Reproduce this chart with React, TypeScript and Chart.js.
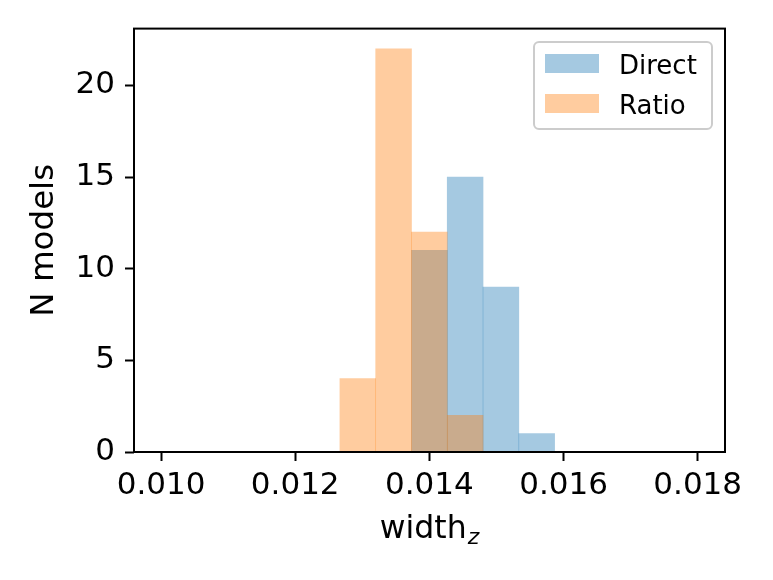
import React, { useEffect, useRef } from 'react';
import { Chart, registerables } from 'chart.js';

Chart.register(...registerables);

// histogram: 15 bins over [0.010, 0.018], only the bins that hold something are kept
const binCenters = [0.0129333, 0.0134667, 0.014, 0.0145333, 0.0150667, 0.0156];
const directCounts = [0, 0, 11, 15, 9, 1];
const ratioCounts = [4, 22, 12, 2, 0, 0];
const seriesLabels = ['Direct', 'Ratio'];
const xTicks = [0.01, 0.012, 0.014, 0.016, 0.018];
const yTicks = [0, 5, 10, 15, 20];
const xTitle = 'width';
const xTitleSub = 'z';
const yTitle = 'N models';

const FONT = '"DejaVu Sans", sans-serif';
const BLUE = 'rgba(31,119,180,0.4)';
const ORANGE = 'rgba(255,127,14,0.4)';

// spines, axis titles and the boxed legend, drawn the matplotlib way
const framePlugin = {
  id: 'frame',
  afterDraw(chart: any) {
    const { ctx, chartArea: a } = chart;
    ctx.save();
    ctx.strokeStyle = '#000';
    ctx.lineWidth = 2;
    ctx.strokeRect(a.left, a.top, a.right - a.left, a.bottom - a.top);

    // x title with subscript
    ctx.fillStyle = '#000';
    ctx.textBaseline = 'alphabetic';
    ctx.textAlign = 'left';
    ctx.font = `31.5px ${FONT}`;
    const w1 = ctx.measureText(xTitle).width;
    ctx.font = `italic 22px ${FONT}`;
    const w2 = ctx.measureText(xTitleSub).width;
    const x0 = (a.left + a.right) / 2 - (w1 + w2 + 1) / 2;
    ctx.font = `31.5px ${FONT}`;
    ctx.fillText(xTitle, x0, 538);
    ctx.font = `italic 22px ${FONT}`;
    ctx.fillText(xTitleSub, x0 + w1 + 1, 544);

    // y title
    ctx.save();
    ctx.translate(53, (a.top + a.bottom) / 2);
    ctx.rotate(-Math.PI / 2);
    ctx.textAlign = 'center';
    ctx.font = `32.5px ${FONT}`;
    ctx.fillText(yTitle, 0, 0);
    ctx.restore();

    // legend
    const lx = 534, ly = 42, lw = 178, lh = 87, r = 5;
    ctx.beginPath();
    ctx.moveTo(lx + r, ly);
    ctx.arcTo(lx + lw, ly, lx + lw, ly + lh, r);
    ctx.arcTo(lx + lw, ly + lh, lx, ly + lh, r);
    ctx.arcTo(lx, ly + lh, lx, ly, r);
    ctx.arcTo(lx, ly, lx + lw, ly, r);
    ctx.closePath();
    ctx.fillStyle = 'rgba(255,255,255,0.8)';
    ctx.fill();
    ctx.strokeStyle = '#cccccc';
    ctx.lineWidth = 2;
    ctx.stroke();

    const colors = [BLUE, ORANGE];
    const rows = [54, 94];
    ctx.font = `26px ${FONT}`;
    ctx.textAlign = 'left';
    seriesLabels.forEach((label, i) => {
      ctx.fillStyle = colors[i];
      ctx.fillRect(545, rows[i], 54, 19);
      ctx.fillStyle = '#000';
      ctx.fillText(label, 619, rows[i] + 19.5);
    });
    ctx.restore();
  },
};

export default function App() {
  const canvasRef = useRef<HTMLCanvasElement>(null);

  useEffect(() => {
    document.body.style.margin = '0';
    if (!canvasRef.current) return;

    const tickFont = { family: FONT, size: 31 };
    const grid = {
      drawOnChartArea: false,
      drawTicks: true,
      offset: false,
      tickLength: 9,
      tickWidth: 2,
      tickColor: '#000',
    };

    const chart = new Chart(canvasRef.current, {
      type: 'bar',
      data: {
        datasets: [
          {
            label: seriesLabels[0],
            data: binCenters.map((x, i) => ({ x, y: directCounts[i] })),
            backgroundColor: BLUE,
            order: 1,
          },
          {
            label: seriesLabels[1],
            data: binCenters.map((x, i) => ({ x, y: ratioCounts[i] })),
            backgroundColor: ORANGE,
            order: 0,
          },
        ],
      },
      options: {
        animation: false,
        responsive: false,
        devicePixelRatio: 1,
        layout: { padding: { top: 28, right: 48, left: 0, bottom: 0 } },
        datasets: {
          bar: {
            barPercentage: 1,
            categoryPercentage: 1,
            grouped: false,
            borderWidth: 0,
          },
        },
        plugins: {
          legend: { display: false },
          tooltip: { enabled: false },
        },
        scales: {
          x: {
            type: 'linear',
            offset: false,
            min: 0.009597,
            max: 0.018407,
            afterBuildTicks: (s: any) => {
              s.ticks = xTicks.map((value) => ({ value }));
            },
            afterFit: (s: any) => {
              s.height = 128;
            },
            ticks: {
              font: tickFont,
              color: '#000',
              padding: 6,
              maxRotation: 0,
              autoSkip: false,
              callback: (v: any) => Number(v).toFixed(3),
            },
            grid,
            border: { display: false },
          },
          y: {
            min: 0,
            max: 23.1,
            afterBuildTicks: (s: any) => {
              s.ticks = yTicks.map((value) => ({ value }));
            },
            afterFit: (s: any) => {
              s.width = 134;
            },
            ticks: {
              font: tickFont,
              color: '#000',
              padding: 10,
            },
            grid,
            border: { display: false },
          },
        },
      },
      plugins: [framePlugin],
    } as any);

    return () => chart.destroy();
  }, []);

  return (
    <canvas
      ref={canvasRef}
      width={773}
      height={580}
      style={{ display: 'block', width: 773, height: 580 }}
    />
  );
}
